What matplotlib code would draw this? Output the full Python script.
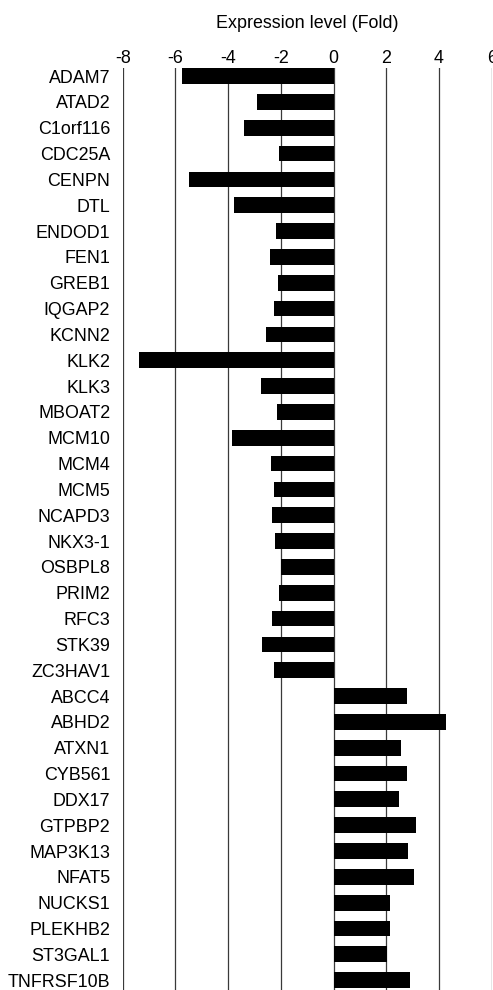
import matplotlib
matplotlib.use("Agg")
import matplotlib.pyplot as plt
from matplotlib.ticker import FuncFormatter

plt.rcParams['font.family'] = ['Liberation Sans', 'DejaVu Sans']

genes = ["ADAM7", "ATAD2", "C1orf116", "CDC25A", "CENPN", "DTL", "ENDOD1", "FEN1",
         "GREB1", "IQGAP2", "KCNN2", "KLK2", "KLK3", "MBOAT2", "MCM10", "MCM4",
         "MCM5", "NCAPD3", "NKX3-1", "OSBPL8", "PRIM2", "RFC3", "STK39", "ZC3HAV1",
         "ABCC4", "ABHD2", "ATXN1", "CYB561", "DDX17", "GTPBP2", "MAP3K13", "NFAT5",
         "NUCKS1", "PLEKHB2", "ST3GAL1", "TNFRSF10B"]
fold = [-5.76, -2.91, -3.39, -2.05, -5.47, -3.76, -2.18, -2.40,
        -2.09, -2.24, -2.57, -7.37, -2.75, -2.13, -3.84, -2.38,
        -2.24, -2.34, -2.23, -2.01, -2.05, -2.33, -2.73, -2.26,
        2.79, 4.28, 2.57, 2.79, 2.48, 3.13, 2.81, 3.05,
        2.14, 2.13, 2.04, 2.90]
xticks = [-8, -6, -4, -2, 0, 2, 4, 6]
title = "Expression level (Fold)"

W, H = 493, 990
fig = plt.figure(figsize=(W / 100, H / 100), dpi=100)
left, right = 122.7 / W, 491.6 / W
top = 1 - 68 / H
ax = fig.add_axes([left, 0.0, right - left, top])

pos = list(range(len(genes)))
for xv in xticks:
    ax.axvline(xv, color='#3a3a3a', lw=0.9, zorder=1)
ax.barh(pos, fold, height=0.61, color='black', zorder=3)

ax.set_xlim(-8, 6)
ax.set_ylim(35.38, -0.314)
ax.set_yticks(pos)
ax.set_yticklabels(genes, fontsize=12.9)
ax.xaxis.tick_top()
ax.set_xticks(xticks)
ax.xaxis.set_major_formatter(FuncFormatter(lambda v, p: f"{int(v)}".replace('\u2212', '-')))
ax.tick_params(axis='x', length=0, pad=0.5, labelsize=12.9)
ax.tick_params(axis='y', length=0, pad=9)
for s in ax.spines.values():
    s.set_visible(False)

fig.text((left + right) / 2, 1 - 24 / H, title, ha='center', va='center', fontsize=12.9)

fig.savefig("out.png", dpi=100)
